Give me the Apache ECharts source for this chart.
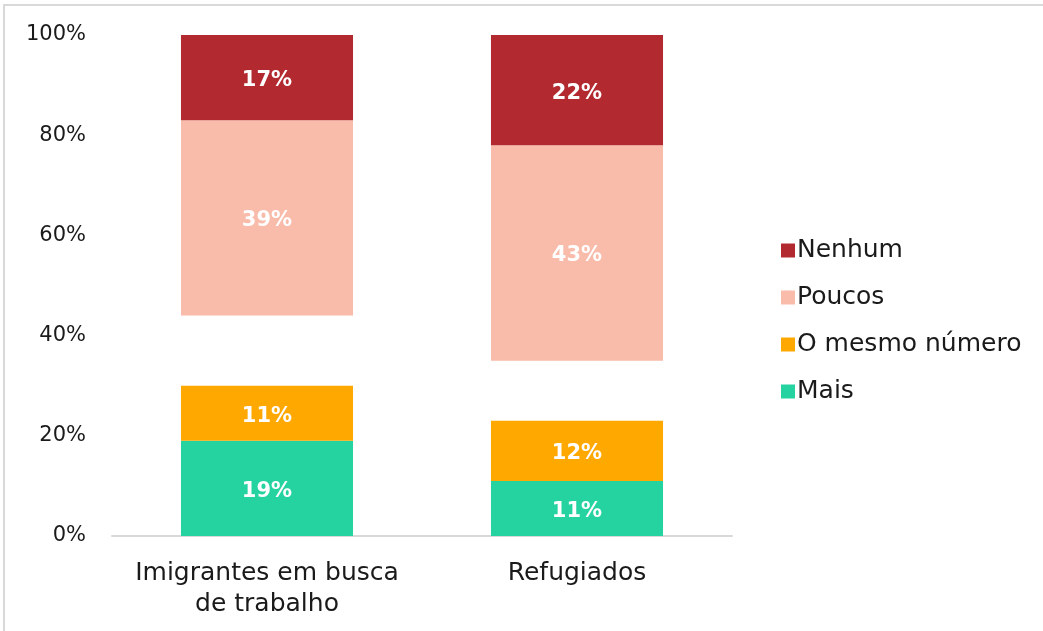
<!DOCTYPE html>
<html>
<head>
<meta charset="utf-8">
<script src="https://cdn.jsdelivr.net/npm/echarts@6/dist/echarts.min.js"></script>
<style>
  html, body { margin: 0; padding: 0; background: #fff; }
  #chart { width: 1043px; height: 631px; }
</style>
</head>
<body>
<div id="chart"></div>
<script>
  var categories = ['Imigrantes em busca\nde trabalho', 'Refugiados'];
  var mais = [19, 11];
  var mesmo = [11, 12];
  var semResposta = [14, 12]; // parte não mostrada
  var poucos = [39, 43];
  var nenhum = [17, 22];
  var yTicks = [0, 20, 40, 60, 80, 100];

  var fontName = 'DejaVu Sans';
  var chart = echarts.init(document.getElementById('chart'));

  function barSerie(name, data, color) {
    return {
      name: name,
      type: 'bar',
      stack: 'total',
      barWidth: '55.5%',
      data: data,
      itemStyle: { color: color },
      label: {
        show: true,
        position: 'inside',
        formatter: '{c}%',
        color: '#fff',
        fontWeight: 'bold',
        fontSize: 21,
        fontFamily: fontName,
        offset: [0, 3]
      }
    };
  }

  var option = {
    animation: false,
    textStyle: { fontFamily: fontName },
    graphic: [{
      type: 'rect',
      shape: { x: 4, y: 5, width: 1100, height: 700 },
      style: { fill: 'none', stroke: '#d9d9d9', lineWidth: 2 },
      silent: true
    }],
    grid: { left: 112, right: 311, top: 35, bottom: 95 },
    legend: {
      data: ['Nenhum', 'Poucos', 'O mesmo número', 'Mais'],
      orient: 'vertical',
      left: 776,
      top: 233,
      itemWidth: 14,
      itemHeight: 14,
      itemGap: 22,
      icon: 'rect',
      textStyle: { fontSize: 25, color: '#1a1a1a', fontFamily: fontName, padding: [0, 0, 0, -3] }
    },
    xAxis: {
      type: 'category',
      data: categories,
      axisLine: { lineStyle: { color: '#d9d9d9', width: 2 } },
      axisTick: { show: false },
      axisLabel: { interval: 0, fontSize: 25, color: '#1a1a1a', margin: 22, lineHeight: 31, fontFamily: fontName }
    },
    yAxis: {
      type: 'value',
      min: 0,
      max: 100,
      interval: 20,
      axisLine: { show: false },
      axisTick: { show: false },
      splitLine: { show: false },
      axisLabel: {
        fontSize: 21,
        color: '#1a1a1a',
        margin: 26,
        fontFamily: fontName,
        formatter: function (v) { return yTicks.indexOf(v) >= 0 ? v + '%' : ''; }
      }
    },
    series: [
      barSerie('Mais', mais, '#25d3a1'),
      barSerie('O mesmo número', mesmo, '#ffa800'),
      {
        name: 'gap',
        type: 'bar',
        stack: 'total',
        data: semResposta,
        itemStyle: { color: 'rgba(0,0,0,0)' },
        label: { show: false },
        silent: true
      },
      barSerie('Poucos', poucos, '#f9bbaa'),
      barSerie('Nenhum', nenhum, '#b22930')
    ]
  };

  chart.setOption(option);
</script>
</body>
</html>
